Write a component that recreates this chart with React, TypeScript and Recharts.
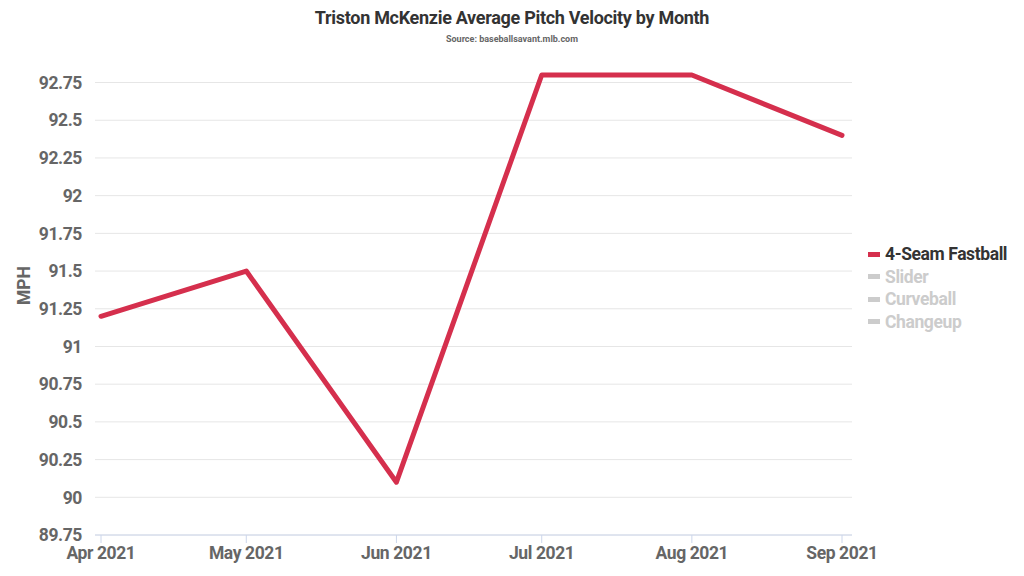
import { LineChart, Line, XAxis, YAxis, CartesianGrid } from 'recharts';

// days since Apr 1 2021 for the first of each month
const monthDays = [0, 30, 61, 91, 122, 153];
const monthLabels = ['Apr 2021', 'May 2021', 'Jun 2021', 'Jul 2021', 'Aug 2021', 'Sep 2021'];
const fastball = [91.2, 91.5, 90.1, 92.8, 92.8, 92.4];
const yTicks = [89.75, 90, 90.25, 90.5, 90.75, 91, 91.25, 91.5, 91.75, 92, 92.25, 92.5, 92.75];
const legendNames = ['4-Seam Fastball', 'Slider', 'Curveball', 'Changeup'];
const legendHidden = [false, true, true, true];

const data = monthDays.map((d, i) => ({ day: d, label: monthLabels[i], fastball: fastball[i] }));

const FONT = 'Roboto, sans-serif';
const RED = '#d52f4d';
const tickStyle = { fill: '#666', fontSize: 17.5, fontWeight: 700, fontFamily: FONT, letterSpacing: -0.4 };

function PitchLegend() {
  return (
    <div style={{ position: 'absolute', top: 243, left: 868, fontFamily: FONT, fontWeight: 700, fontSize: 17.5, letterSpacing: -0.4 }}>
      {legendNames.map((name, i) => (
        <div key={name} style={{ display: 'flex', alignItems: 'center', height: 22.5, color: legendHidden[i] ? '#cccccc' : '#333333' }}>
          <span style={{ display: 'inline-block', width: 12, height: 5, marginRight: 5, background: legendHidden[i] ? '#cccccc' : RED }} />
          {name}
        </div>
      ))}
    </div>
  );
}

export default function App() {
  const monthTick = (v: number) => monthLabels[monthDays.indexOf(v)] ?? '';
  return (
    <div style={{ position: 'absolute', top: 0, left: 0, width: 1024, height: 576, background: '#fff' }}>
      <div style={{ position: 'absolute', top: 7, width: 1024, textAlign: 'center', fontFamily: FONT, fontWeight: 700, fontSize: 18, letterSpacing: -0.3, color: '#333' }}>
        Triston McKenzie Average Pitch Velocity by Month
      </div>
      <div style={{ position: 'absolute', top: 34, width: 1024, textAlign: 'center', fontFamily: FONT, fontWeight: 700, fontSize: 9, color: '#666' }}>
        Source: baseballsavant.mlb.com
      </div>
      <LineChart width={1024} height={576} data={data} margin={{ top: 75, right: 172, bottom: 0, left: 0 }}>
        <CartesianGrid vertical={false} stroke="#e6e6e6" horizontalValues={yTicks} />
        <XAxis
          dataKey="day"
          type="number"
          domain={[0, 153]}
          ticks={monthDays}
          tickFormatter={monthTick}
          padding={{ left: 6, right: 10 }}
          height={41}
          axisLine={{ stroke: '#ccd6eb' }}
          tickLine={{ stroke: '#ccd6eb' }}
          tickSize={8}
          tickMargin={4}
          tick={tickStyle}
        />
        <YAxis
          type="number"
          domain={[89.75, 92.8]}
          ticks={yTicks}
          interval={0}
          width={95}
          axisLine={false}
          tickLine={false}
          tickSize={0}
          tickMargin={13}
          tick={tickStyle}
          label={{ value: 'MPH', angle: -90, position: 'insideLeft', offset: 24, fill: '#666', fontSize: 17.5, fontWeight: 700, fontFamily: FONT }}
        />
        <Line
          dataKey="fastball"
          name="4-Seam Fastball"
          stroke={RED}
          strokeWidth={5}
          strokeLinejoin="round"
          strokeLinecap="round"
          dot={false}
          activeDot={false}
          isAnimationActive={false}
        />
      </LineChart>
      <PitchLegend />
    </div>
  );
}
